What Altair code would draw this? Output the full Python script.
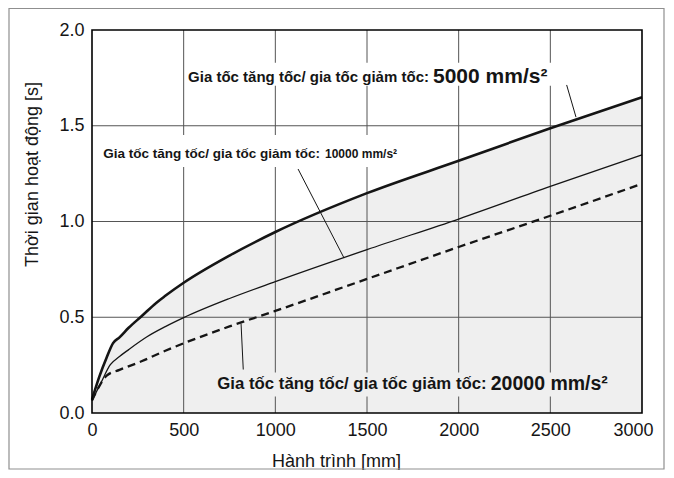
import altair as alt
import pandas as pd

# ---- data ----
stroke_5000 = [0, 40, 80, 115, 150, 200, 270, 350, 400, 500, 750, 1000, 1500, 2000, 2500, 3000]
time_5000 = [0.07, 0.19, 0.29, 0.365, 0.395, 0.445, 0.505, 0.575, 0.612, 0.68, 0.822,
             0.945, 1.148, 1.317, 1.487, 1.649]
stroke_10000 = [0, 50, 100, 150, 200, 300, 400, 500, 750, 1000, 1500, 2000, 2500, 3000]
time_10000 = [0.065, 0.16, 0.252, 0.295, 0.331, 0.398, 0.451, 0.498, 0.598, 0.686,
              0.853, 1.013, 1.183, 1.348]
stroke_20000 = [0, 40, 80, 150, 270, 400, 500, 750, 1000, 1500, 2000, 2500, 3000]
time_20000 = [0.065, 0.14, 0.195, 0.225, 0.27, 0.325, 0.364, 0.452, 0.533, 0.70, 0.867,
              1.03, 1.197]

x_ticks = [0, 500, 1000, 1500, 2000, 2500, 3000]
y_ticks = [0.0, 0.5, 1.0, 1.5, 2.0]

x_title = "Hành trình [mm]"
y_title = "Thời gian hoạt động [s]"

label_main = "Gia tốc tăng tốc/ gia tốc giảm tốc:"
label_values = ["5000 mm/s²", "10000 mm/s²", "20000 mm/s²"]

# annotation anchors (data units)
main_x = [1838, 1244, 2153]
main_y = [1.756, 1.353, 0.149]
value_x = [1860, 1271, 2175]
box_x = [513, 49, 665]
box_x2 = [2553, 1664, 2825]
box_y = [1.829, 1.452, 0.211]
box_y2 = [1.709, 1.285, 0.086]
leader_x = [2589, 1124, 813]
leader_y = [1.713, 1.274, 0.467]
leader_x2 = [2640, 1375, 825]
leader_y2 = [1.545, 0.809, 0.227]

W, H = 550, 383
FONT = "Liberation Sans"
INK = "#151515"
GRID = "#555555"

xs = alt.Scale(domain=[0, 3000], nice=False, zero=False)
ys = alt.Scale(domain=[0, 2], nice=False)

d5 = pd.DataFrame({"s": stroke_5000, "t": time_5000})
d10 = pd.DataFrame({"s": stroke_10000, "t": time_10000})
d20 = pd.DataFrame({"s": stroke_20000, "t": time_20000})

x_axis = alt.Axis(
    values=x_ticks, format="d", grid=False, domain=False, ticks=False, tickSize=0,
    labelFlush=False,
    labelFont=FONT, labelFontSize=18, labelColor=INK, labelPadding=8,
    labelOffset={"condition": {"test": "datum.value == 3000", "value": -9}, "value": 0},
    title=x_title, titleFont=FONT, titleFontSize=18, titleFontWeight="normal",
    titleColor=INK, titleX=244, titleY=48, titleAlign="center", titleBaseline="middle",
)
y_axis = alt.Axis(
    values=y_ticks, format=".1f", grid=False, domain=False, ticks=False, tickSize=0,
    labelFont=FONT, labelFontSize=18, labelColor=INK, labelPadding=8,
    title=y_title, titleFont=FONT, titleFontSize=18, titleFontWeight="normal",
    titleColor=INK, titleX=-60, titleY=144, titleAngle=270, titleAlign="center",
    titleBaseline="middle",
)


def X(field):
    return alt.X(field, scale=xs, axis=x_axis)


def Y(field):
    return alt.Y(field, scale=ys, axis=y_axis)


area = alt.Chart(d5).mark_area(color="#efefef", interpolate="monotone").encode(
    x=X("s:Q"), y=Y("t:Q"))

vgrid = alt.Chart(pd.DataFrame({"s": x_ticks[1:-1]})).mark_rule(
    color=GRID, strokeWidth=1).encode(x=X("s:Q"))
hgrid = alt.Chart(pd.DataFrame({"t": y_ticks[1:-1]})).mark_rule(
    color=GRID, strokeWidth=1).encode(y=Y("t:Q"))

boxes = alt.Chart(pd.DataFrame({
    "s": box_x, "s2": box_x2, "t": box_y, "t2": box_y2,
    "fill": ["white", "white", "#efefef"],
})).mark_rect().encode(
    x=X("s:Q"), x2="s2:Q", y=Y("t:Q"), y2="t2:Q",
    fill=alt.Fill("fill:N", scale=None),
)

line5 = alt.Chart(d5).mark_line(color=INK, strokeWidth=2.6, interpolate="monotone").encode(
    x=X("s:Q"), y=Y("t:Q"))
line10 = alt.Chart(d10).mark_line(color=INK, strokeWidth=1.3, interpolate="monotone").encode(
    x=X("s:Q"), y=Y("t:Q"))
line20 = alt.Chart(d20).mark_line(color=INK, strokeWidth=2.3, strokeDash=[8, 5],
                                  interpolate="monotone").encode(x=X("s:Q"), y=Y("t:Q"))

leaders = alt.Chart(pd.DataFrame({
    "s": leader_x, "s2": leader_x2, "t": leader_y, "t2": leader_y2,
})).mark_rule(color=INK, strokeWidth=1).encode(
    x=X("s:Q"), x2="s2:Q", y=Y("t:Q"), y2="t2:Q")


def txt(x, y, text, size, align):
    return alt.Chart(pd.DataFrame({"s": [x], "t": [y], "label": [text]})).mark_text(
        font=FONT, fontSize=size, fontWeight="bold", color=INK, align=align,
        baseline="middle",
    ).encode(x=X("s:Q"), y=Y("t:Q"), text="label:N")


main_sizes = [15, 13.5, 16.8]
value_sizes = [21, 12, 19.5]

texts = []
for i in range(3):
    texts.append(txt(main_x[i], main_y[i], label_main, main_sizes[i], "right"))
    texts.append(txt(value_x[i], main_y[i], label_values[i], value_sizes[i], "left"))

plot_frame = alt.Chart(pd.DataFrame({"a": [0]})).mark_rect(
    filled=False, stroke="black", strokeWidth=1.6
).encode(x=alt.value(0), x2=alt.value(W), y=alt.value(0), y2=alt.value(H))

outer_frame = alt.Chart(pd.DataFrame({"a": [0]})).mark_rect(
    filled=False, stroke="#8f8f8f", strokeWidth=1.2
).encode(x=alt.value(-83), x2=alt.value(572), y=alt.value(-21.5), y2=alt.value(439))

chart = alt.layer(
    area, vgrid, hgrid, boxes, line20, line10, line5, leaders, *texts, plot_frame, outer_frame
).properties(
    width=W, height=H,
    autosize=alt.AutoSizeParams(type="none"),
    padding={"left": 84, "top": 22, "right": 24, "bottom": 57},
    background="white",
).configure_view(stroke="transparent")

chart.save("out.html", embed_options={"renderer": "svg", "actions": False})
